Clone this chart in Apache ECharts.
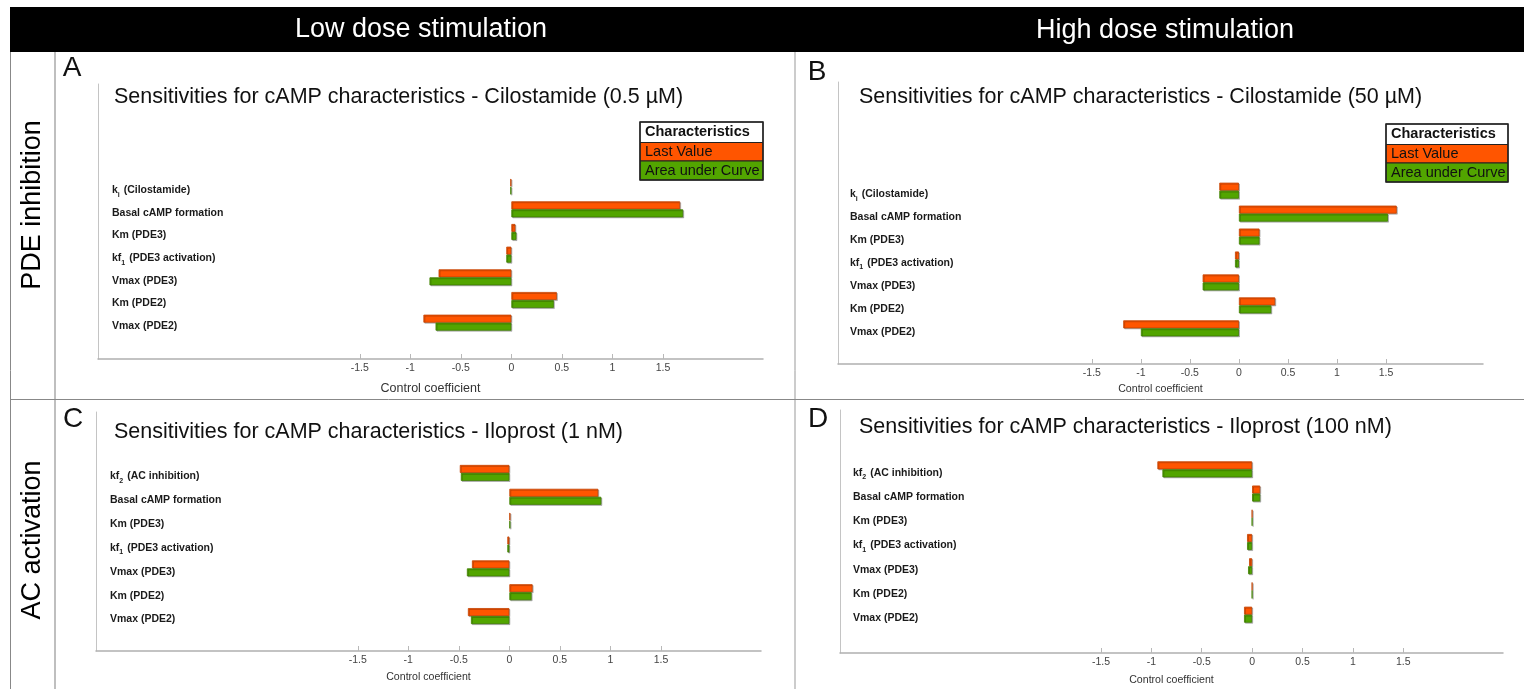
<!DOCTYPE html>
<html><head><meta charset="utf-8">
<script src="https://cdn.jsdelivr.net/npm/echarts@6/dist/echarts.min.js"></script>
<style>html,body{margin:0;padding:0;background:#fff}#c{width:1524px;height:689px}</style>
</head><body><div id="c"></div>
<script>
// ---------- data ----------
const categoriesPDE = ['k_i (Cilostamide)', 'Basal cAMP formation', 'Km (PDE3)', 'kf_1 (PDE3 activation)', 'Vmax (PDE3)', 'Km (PDE2)', 'Vmax (PDE2)'];
const categoriesAC = ['kf_2 (AC inhibition)', 'Basal cAMP formation', 'Km (PDE3)', 'kf_1 (PDE3 activation)', 'Vmax (PDE3)', 'Km (PDE2)', 'Vmax (PDE2)'];
const seriesNames = ['Last Value', 'Area under Curve'];
const panelTitles = [
  'Sensitivities for cAMP characteristics - Cilostamide (0.5 µM)',
  'Sensitivities for cAMP characteristics - Cilostamide (50 µM)',
  'Sensitivities for cAMP characteristics - Iloprost (1 nM)',
  'Sensitivities for cAMP characteristics - Iloprost (100 nM)'
];
const panelLetters = ['A', 'B', 'C', 'D'];
const columnHeaders = ['Low dose stimulation', 'High dose stimulation'];
const rowHeaders = ['PDE inhibition', 'AC activation'];
const axisName = 'Control coefficient';
const legendTitle = 'Characteristics';
const xTicks = [-1.5, -1, -0.5, 0, 0.5, 1, 1.5];
const X_MIN = -4.09, X_MAX = 2.49;

const lastA = [-0.01, 1.67, 0.04, -0.05, -0.72, 0.45, -0.87];
const aucA  = [-0.01, 1.70, 0.05, -0.05, -0.81, 0.42, -0.75];
const lastB = [-0.20, 1.61, 0.21, -0.04, -0.37, 0.37, -1.18];
const aucB  = [-0.20, 1.52, 0.21, -0.04, -0.37, 0.33, -1.00];
const lastC = [-0.49, 0.88, 0.01, -0.02, -0.37, 0.23, -0.41];
const aucC  = [-0.48, 0.91, 0.01, -0.02, -0.42, 0.22, -0.38];
const lastD = [-0.94, 0.08, 0, -0.05, -0.03, 0, -0.08];
const aucD  = [-0.89, 0.08, 0, -0.05, -0.04, 0, -0.08];

// ---------- layout / style ----------
const FONT = '"Liberation Sans", Arial, sans-serif';
const ORANGE = '#ff5500', GREEN = '#52a500';
const panels = [
  {cats: categoriesPDE, last: lastA, auc: aucA, frame: {left: 98, top: 84, width: 665, height: 275}, dataTop: 175.3, dataH: 158.7, nameSize: 12.5, nameGap: 23, lblMargin: 14, title: [114, 97], letter: [72, 68], legend: [640, 122, 123]},
  {cats: categoriesPDE, last: lastB, auc: aucB, frame: {left: 838, top: 82, width: 645, height: 282}, dataTop: 179.2, dataH: 160.6, nameSize: 10.6, nameGap: 20, lblMargin: 12, title: [859, 97], letter: [817, 72], legend: [1386, 124, 122]},
  {cats: categoriesAC, last: lastC, auc: aucC, frame: {left: 96, top: 412, width: 665, height: 239}, dataTop: 461, dataH: 167, nameSize: 10.6, nameGap: 21, lblMargin: 14, title: [114, 432], letter: [73, 419]},
  {cats: categoriesAC, last: lastD, auc: aucD, frame: {left: 840, top: 410, width: 663, height: 243}, dataTop: 457.2, dataH: 169.6, nameSize: 10.6, nameGap: 22, lblMargin: 13, title: [859, 427], letter: [818, 419]}
];

const grid = [], xAxis = [], yAxis = [], series = [], graphic = [];
panels.forEach((p, i) => {
  const f = p.frame;
  grid.push({left: f.left, top: f.top, width: f.width, height: f.height});
  grid.push({left: f.left, top: p.dataTop, width: f.width, height: p.dataH});
  const fi = 2 * i, di = 2 * i + 1;
  xAxis.push({
    gridIndex: fi, type: 'value', min: X_MIN, max: X_MAX,
    axisLine: {show: true, onZero: false, lineStyle: {color: '#b0b0b0', width: 1.5}},
    axisTick: {show: true, customValues: xTicks, length: 5, inside: true, lineStyle: {color: '#b8b8b8'}},
    axisLabel: {customValues: xTicks, color: '#444', fontSize: 10.5, fontFamily: FONT, margin: 4},
    splitLine: {show: false},
    name: axisName, nameLocation: 'middle', nameGap: p.nameGap,
    nameTextStyle: {fontSize: p.nameSize, color: '#333', fontFamily: FONT}
  });
  yAxis.push({
    gridIndex: fi, type: 'value', min: 0, max: 1,
    axisLine: {show: true, onZero: false, lineStyle: {color: '#c4c4c4', width: 1}},
    axisTick: {show: false}, axisLabel: {show: false}, splitLine: {show: false}
  });
  xAxis.push({gridIndex: di, type: 'value', min: X_MIN, max: X_MAX, show: false});
  yAxis.push({
    gridIndex: di, type: 'category', data: p.cats, inverse: true,
    axisLine: {show: false, onZero: false}, axisTick: {show: false},
    axisLabel: {
      inside: true, margin: p.lblMargin, color: '#1a1a1a', fontWeight: 'bold', fontSize: 10.5, fontFamily: FONT,
      padding: [7, 0, 0, 0],
      formatter: v => v.replace(/_(\w)/, '{sub|$1}'),
      rich: {sub: {fontSize: 7, fontWeight: 'bold', fontFamily: FONT, color: '#1a1a1a', padding: [9, 1, 0, 0]}}
    }
  });
  [[p.last, ORANGE, '#c24100'], [p.auc, GREEN, '#3f7f00']].forEach((s, k) => {
    series.push({
      type: 'bar', name: seriesNames[k], xAxisIndex: di, yAxisIndex: di, data: s[0],
      barWidth: 8, barGap: '0%', animation: false,
      itemStyle: {color: s[1], borderColor: s[2], borderWidth: 0.8,
        shadowColor: 'rgba(0,0,0,0.25)', shadowOffsetX: 1, shadowOffsetY: 1, shadowBlur: 0}
    });
  });
  graphic.push({type: 'text', x: p.title[0], y: p.title[1], silent: true,
    style: {text: panelTitles[i], font: '21.5px ' + FONT, fill: '#111', verticalAlign: 'middle'}});
  graphic.push({type: 'text', x: p.letter[0], y: p.letter[1], silent: true,
    style: {text: panelLetters[i], font: '28px ' + FONT, fill: '#111', align: 'center', verticalAlign: 'middle'}});
  if (p.legend) {
    const [lx, ly, lw] = p.legend;
    const rows = [[legendTitle, '#ffffff', 'bold', 20.5], [seriesNames[0], ORANGE, 'normal', 18.5], [seriesNames[1], GREEN, 'normal', 19]];
    let y = ly;
    rows.forEach(r => {
      graphic.push({type: 'rect', silent: true, shape: {x: lx, y: y, width: lw, height: r[3]},
        style: {fill: r[1], stroke: '#222', lineWidth: 1}});
      graphic.push({type: 'text', silent: true, x: lx + 5, y: y + r[3] / 2,
        style: {text: r[0], font: r[2] + ' 14.5px ' + FONT, fill: '#111', verticalAlign: 'middle'}});
      y += r[3];
    });
    graphic.push({type: 'rect', silent: true, shape: {x: lx, y: ly, width: lw, height: y - ly},
      style: {fill: 'none', stroke: '#222', lineWidth: 1.5}});
  }
});

// frame: header band, dividers, row headers
graphic.unshift(
  {type: 'rect', silent: true, shape: {x: 10, y: 7, width: 1514, height: 45}, style: {fill: '#000'}},
  {type: 'line', silent: true, shape: {x1: 10.5, y1: 52, x2: 10.5, y2: 689}, style: {stroke: '#888', lineWidth: 1}},
  {type: 'line', silent: true, shape: {x1: 55, y1: 52, x2: 55, y2: 689}, style: {stroke: '#aaa', lineWidth: 1.5}},
  {type: 'line', silent: true, shape: {x1: 795, y1: 52, x2: 795, y2: 689}, style: {stroke: '#999', lineWidth: 1}},
  {type: 'line', silent: true, shape: {x1: 10, y1: 399.5, x2: 1524, y2: 399.5}, style: {stroke: '#888', lineWidth: 1}},
  {type: 'text', silent: true, x: 421, y: 30, style: {text: columnHeaders[0], font: '27px ' + FONT, fill: '#fff', align: 'center', verticalAlign: 'middle'}},
  {type: 'text', silent: true, x: 1165, y: 31, style: {text: columnHeaders[1], font: '27px ' + FONT, fill: '#fff', align: 'center', verticalAlign: 'middle'}},
  {type: 'text', silent: true, x: 33, y: 205, rotation: Math.PI / 2, style: {text: rowHeaders[0], font: '27px ' + FONT, fill: '#000', align: 'center', verticalAlign: 'middle'}},
  {type: 'text', silent: true, x: 33, y: 540, rotation: Math.PI / 2, style: {text: rowHeaders[1], font: '27px ' + FONT, fill: '#000', align: 'center', verticalAlign: 'middle'}}
);

const chart = echarts.init(document.getElementById('c'), null, {renderer: 'canvas'});
chart.setOption({animation: false, backgroundColor: '#fff', grid, xAxis, yAxis, series, graphic});
</script></body></html>
